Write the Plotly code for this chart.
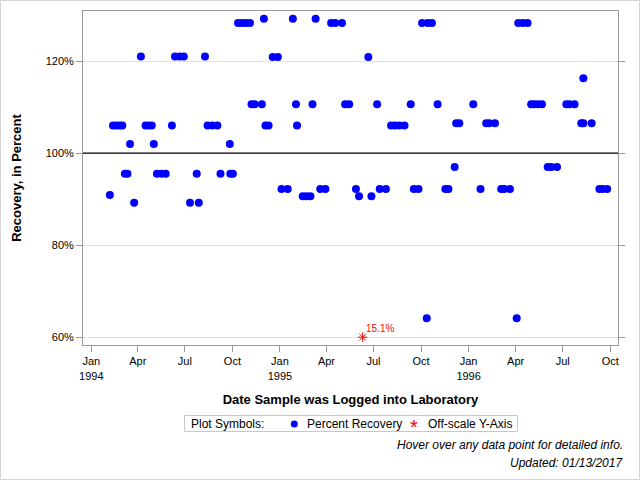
import plotly.graph_objects as go

# ---- data ----
dates = [
    "1994-02-06", "1994-02-12", "1994-02-19", "1994-02-25", "1994-03-02", "1994-03-07",
    "1994-03-12", "1994-03-17", "1994-03-25", "1994-04-07", "1994-04-16", "1994-04-22",
    "1994-04-28", "1994-05-02", "1994-05-08", "1994-05-17", "1994-05-25", "1994-06-06",
    "1994-06-12", "1994-06-21", "1994-06-29", "1994-07-11", "1994-07-24", "1994-07-28",
    "1994-08-09", "1994-08-14", "1994-08-23", "1994-09-02", "1994-09-08", "1994-09-26",
    "1994-09-27", "1994-10-02", "1994-10-12", "1994-10-19", "1994-10-27", "1994-11-04",
    "1994-11-07", "1994-11-13", "1994-11-27", "1994-12-01", "1994-12-04", "1994-12-10",
    "1994-12-18", "1994-12-28", "1995-01-04", "1995-01-16", "1995-01-26", "1995-02-01",
    "1995-02-03", "1995-02-14", "1995-02-21", "1995-03-01", "1995-03-05", "1995-03-11",
    "1995-03-20", "1995-03-30", "1995-04-10", "1995-04-18", "1995-05-01", "1995-05-07",
    "1995-05-15", "1995-05-28", "1995-06-03", "1995-06-21", "1995-06-27", "1995-07-08",
    "1995-07-13", "1995-07-25", "1995-08-04", "1995-08-12", "1995-08-20", "1995-08-30",
    "1995-09-11", "1995-09-17", "1995-09-26", "1995-10-03", "1995-10-12", "1995-10-14",
    "1995-10-22", "1995-11-02", "1995-11-17", "1995-11-23", "1995-12-05", "1995-12-08",
    "1995-12-14", "1996-01-10", "1996-01-24", "1996-02-04", "1996-02-10", "1996-02-21",
    "1996-03-04", "1996-03-10", "1996-03-21", "1996-04-03", "1996-04-06", "1996-04-15",
    "1996-04-24", "1996-05-01", "1996-05-07", "1996-05-14", "1996-05-22", "1996-06-02",
    "1996-06-09", "1996-06-20", "1996-07-08", "1996-07-14", "1996-07-24", "1996-08-06",
    "1996-08-10", "1996-08-10", "1996-08-26", "1996-09-10", "1996-09-16", "1996-09-25",
]
recovery = [
    90.9, 106.0, 106.0, 106.0, 106.0, 95.5,
    95.5, 102.0, 89.2, 121.0, 106.0, 106.0,
    106.0, 102.0, 95.5, 95.5, 95.5, 106.0,
    121.0, 121.0, 121.0, 89.2, 95.5, 89.2,
    121.0, 106.0, 106.0, 106.0, 95.5, 102.0,
    95.5, 95.5, 128.3, 128.3, 128.3, 128.3,
    110.65, 110.65, 110.65, 129.2, 106.0, 106.0,
    120.9, 120.9, 92.2, 92.2, 129.2, 110.65,
    106.0, 90.65, 90.65, 90.65, 110.65, 129.2,
    92.2, 92.2, 128.3, 128.3, 128.3, 110.65,
    110.65, 92.2, 90.65, 120.9, 90.65, 110.65,
    92.2, 92.2, 106.0, 106.0, 106.0, 106.0,
    110.65, 92.2, 92.2, 128.3, 64.1, 128.3,
    128.3, 110.65, 92.2, 92.2, 97.0, 106.5,
    106.5, 110.65, 92.2, 106.5, 106.5, 106.5,
    92.2, 92.2, 92.2, 64.1, 128.3, 128.3,
    128.3, 110.65, 110.65, 110.65, 110.65, 97.0,
    97.0, 97.0, 110.65, 110.65, 110.65, 106.5,
    116.3, 106.5, 106.5, 92.2, 92.2, 92.2,
]
offscale_dates = ["1995-06-10"]
offscale_plot_value = [60]
offscale_actual = [15.1]

tick_vals = ["1994-01-01", "1994-04-01", "1994-07-01", "1994-10-01",
             "1995-01-01", "1995-04-01", "1995-07-01", "1995-10-01",
             "1996-01-01", "1996-04-01", "1996-07-01", "1996-10-01"]
tick_text = ["Jan<br>1994", "Apr", "Jul", "Oct", "Jan<br>1995", "Apr", "Jul", "Oct",
             "Jan<br>1996", "Apr", "Jul", "Oct"]
y_ticks = [60, 80, 100, 120]
y_tick_text = ["60%", "80%", "100%", "120%"]

series_names = ["Percent Recovery", "Off-scale Y-Axis"]
legend_title = "Plot Symbols:"

FONT = "Liberation Sans, Arial, sans-serif"
AXIS_GRAY = "#9a9a9a"
BLUE = "#0000ff"
RED = "#ff0000"

L, R, T, B = 83, 22, 11, 135
pw, ph = 640 - L - R, 480 - T - B


def px(X):
    return (X - L) / pw


def py(Y):
    return (480 - B - Y) / ph


fig = go.Figure()
fig.add_trace(go.Scatter(
    x=dates, y=recovery, mode="markers", name=series_names[0],
    marker=dict(color=BLUE, size=8, line=dict(width=0)),
    hovertemplate="%{x|%m/%d/%Y}<br>%{y}%<extra></extra>",
))
fig.add_trace(go.Scatter(
    x=offscale_dates, y=offscale_plot_value, mode="markers", name=series_names[1],
    marker=dict(color=RED, size=8, symbol="asterisk-open",
                line=dict(color=RED, width=1)),
    customdata=offscale_actual,
    hovertemplate="%{x|%m/%d/%Y}<br>%{customdata}%<extra></extra>",
))
for d, v, a in zip(offscale_dates, offscale_plot_value, offscale_actual):
    fig.add_annotation(x=d, y=v, text=f"{a}%", showarrow=False,
                       xanchor="left", yanchor="bottom", xshift=1, yshift=1,
                       font=dict(family=FONT, size=10, color=RED))

# reference line at 100%
fig.add_shape(type="line", xref="paper", x0=0, x1=1, yref="y", y0=100, y1=100,
              line=dict(color="black", width=1.2), layer="above")

# outer image border
fig.add_shape(type="rect", xref="paper", yref="paper",
              x0=px(0.5), x1=px(639.5), y0=py(479.5), y1=py(0.5),
              line=dict(color="#d4d4d4", width=1), fillcolor="rgba(0,0,0,0)")

# ---- legend box (drawn manually to match the compact layout) ----
fig.add_shape(type="rect", xref="paper", yref="paper",
              x0=px(184.5), x1=px(517.5), y0=py(431.5), y1=py(415.5),
              line=dict(color="#c8c8c8", width=1), fillcolor="white")
fig.add_annotation(xref="paper", yref="paper", x=px(189), y=py(423.5),
                   text=legend_title, showarrow=False, xanchor="left", yanchor="middle",
                   font=dict(family=FONT, size=12, color="black"))
fig.add_shape(type="circle", xref="paper", yref="paper",
              xsizemode="pixel", ysizemode="pixel",
              xanchor=px(294.3), yanchor=py(424), x0=-3.5, x1=3.5, y0=-3.5, y1=3.5,
              line=dict(width=0), fillcolor=BLUE)
fig.add_annotation(xref="paper", yref="paper", x=px(305), y=py(423.5),
                   text=series_names[0], showarrow=False, xanchor="left", yanchor="middle",
                   font=dict(family=FONT, size=12, color="black"))
fig.add_annotation(xref="paper", yref="paper", x=px(414.3), y=py(426.5),
                   text="*", showarrow=False, xanchor="center", yanchor="middle",
                   font=dict(family=FONT, size=20, color=RED))
fig.add_annotation(xref="paper", yref="paper", x=px(425.5), y=py(423.5),
                   text=series_names[1], showarrow=False, xanchor="left", yanchor="middle",
                   font=dict(family=FONT, size=12, color="black"))

fig.add_annotation(xref="paper", yref="paper", x=px(625), y=py(445),
                   text="<i>Hover over any data point for detailed info.</i>",
                   showarrow=False, xanchor="right", yanchor="middle",
                   font=dict(family=FONT, size=12, color="black"))
fig.add_annotation(xref="paper", yref="paper", x=px(625), y=py(463),
                   text="<i>Updated: 01/13/2017</i>",
                   showarrow=False, xanchor="right", yanchor="middle",
                   font=dict(family=FONT, size=12, color="black"))

fig.update_layout(
    width=640, height=480,
    margin=dict(l=L, r=R, t=T, b=B, autoexpand=False),
    paper_bgcolor="white", plot_bgcolor="white",
    font=dict(family=FONT, size=11, color="black"),
    showlegend=False,
    xaxis=dict(
        type="date", range=["1993-12-16", "1996-10-16"],
        tickmode="array", tickvals=tick_vals, ticktext=tick_text,
        ticks="outside", ticklen=6, tickcolor=AXIS_GRAY,
        showline=True, linecolor=AXIS_GRAY, linewidth=1, mirror=True,
        showgrid=False, zeroline=False,
        tickfont=dict(family=FONT, size=11, color="black"),
        title=dict(text="<b>Date Sample was Logged into Laboratory</b>",
                   font=dict(family=FONT, size=13, color="black"), standoff=14),
    ),
    yaxis=dict(
        range=[58.3, 130.9], tickmode="array", tickvals=y_ticks, ticktext=y_tick_text,
        ticks="outside", ticklen=6, tickcolor=AXIS_GRAY,
        showline=True, linecolor=AXIS_GRAY, linewidth=1, mirror="ticks",
        showgrid=True, gridcolor="#e2e2e2", gridwidth=1, zeroline=False,
        tickfont=dict(family=FONT, size=11, color="black"),
        title=dict(text="<b>Recovery, in Percent</b>",
                   font=dict(family=FONT, size=13, color="black"), standoff=21),
    ),
)

fig.write_html("out.html")
